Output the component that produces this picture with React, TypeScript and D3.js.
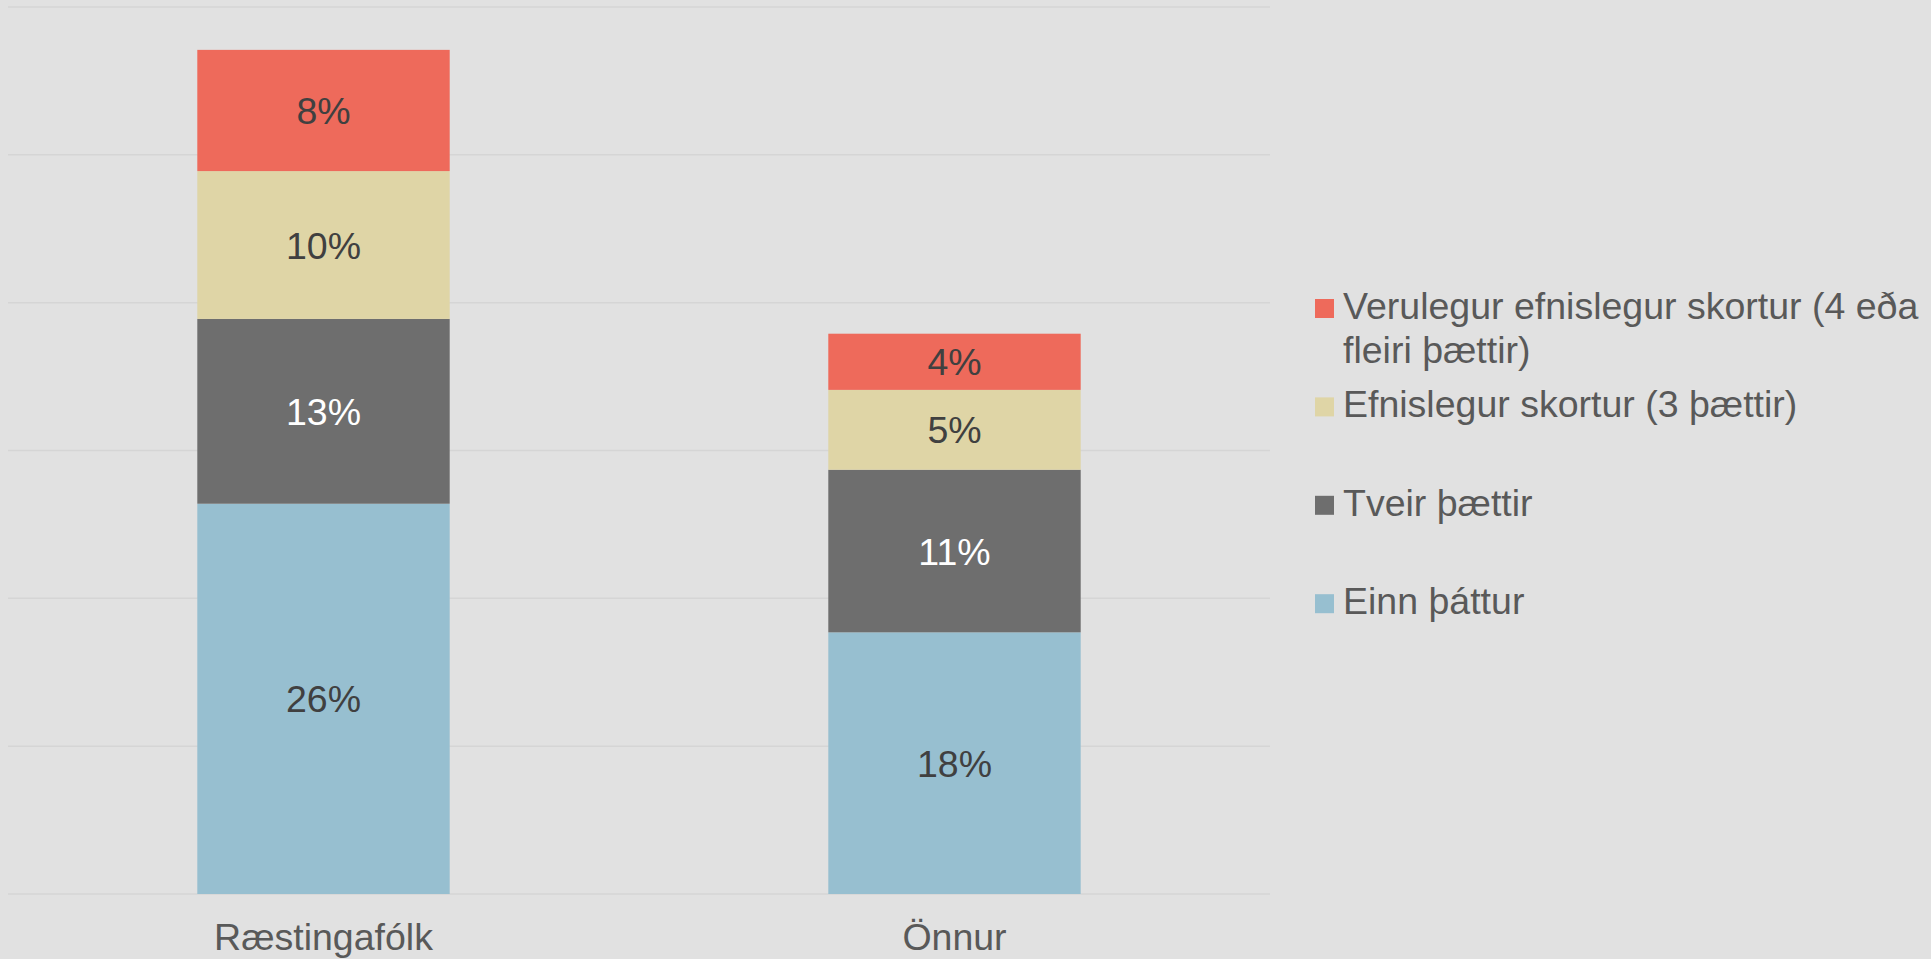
import React from "react";
import * as d3 from "d3";

const categories = ["Ræstingafólk", "Önnur"];
const seriesNames = [
  "Einn þáttur",
  "Tveir þættir",
  "Efnislegur skortur (3 þættir)",
  "Verulegur efnislegur skortur (4 eða fleiri þættir)",
];
const legendLines = [
  ["Einn þáttur"],
  ["Tveir þættir"],
  ["Efnislegur skortur (3 þættir)"],
  ["Verulegur efnislegur skortur (4 eða", "fleiri þættir)"],
];
const einnThattur = [26.4, 17.7];
const tveirThaettir = [12.5, 11.0];
const efnislegur = [10.0, 5.4];
const verulegur = [8.2, 3.8];
const yTicks = [0, 10, 20, 30, 40, 50, 60];

const colors = ["#97BFD0", "#6E6E6E", "#DFD5A6", "#EE6A5B"];
const labelColors = ["#404040", "#FFFFFF", "#404040", "#404040"];

const W = 1931;
const H = 959;
const FONT = "'Liberation Sans', Arial, sans-serif";
const FS = 37.5;

export default function App() {
  const seriesValues = [einnThattur, tveirThaettir, efnislegur, verulegur];
  const rows = categories.map((c, i) => {
    const r: any = { cat: c };
    seriesNames.forEach((s, j) => (r[s] = seriesValues[j][i]));
    return r;
  });
  const stacked = d3.stack().keys(seriesNames)(rows);

  const x = d3
    .scaleBand<string>()
    .domain(categories)
    .range([8, 1270])
    .paddingInner(0.6)
    .paddingOuter(0.3);
  const y = d3.scaleLinear().domain([0, 60]).range([894, 7]);

  return (
    <svg
      width={W}
      height={H}
      style={{ position: "absolute", left: 0, top: 0, display: "block" }}
      fontFamily={FONT}
    >
      <rect x={0} y={0} width={W} height={H} fill="#E1E1E1" />
      {yTicks.map((t) => (
        <line
          key={t}
          x1={8}
          x2={1270}
          y1={y(t)}
          y2={y(t)}
          stroke="#D5D5D5"
          strokeWidth={1.5}
        />
      ))}
      {stacked.map((layer, si) =>
        layer.map((d, ci) => {
          const x0 = x(categories[ci]) as number;
          const y0 = y(d[1]);
          const h = y(d[0]) - y(d[1]);
          const v = d[1] - d[0];
          return (
            <g key={`${si}-${ci}`}>
              <rect
                x={x0}
                y={y0}
                width={x.bandwidth()}
                height={h}
                fill={colors[si]}
              />
              <text
                x={x0 + x.bandwidth() / 2}
                y={y0 + h / 2}
                dy="0.36em"
                textAnchor="middle"
                fontSize={FS}
                fill={labelColors[si]}
              >
                {`${Math.round(v)}%`}
              </text>
            </g>
          );
        })
      )}
      {categories.map((c) => (
        <text
          key={c}
          x={(x(c) as number) + x.bandwidth() / 2}
          y={950}
          textAnchor="middle"
          fontSize={FS}
          fill="#595959"
        >
          {c}
        </text>
      ))}
      {[3, 2, 1, 0].map((si, i) => {
        const top = 299 + i * 98.4;
        return (
          <g key={si}>
            <rect x={1315} y={top} width={19} height={19} fill={colors[si]} />
            <text x={1343} y={top + 20} fontSize={FS} fill="#595959">
              {legendLines[si].map((ln, k) => (
                <tspan key={k} x={1343} dy={k === 0 ? 0 : 44}>
                  {ln}
                </tspan>
              ))}
            </text>
          </g>
        );
      })}
    </svg>
  );
}
